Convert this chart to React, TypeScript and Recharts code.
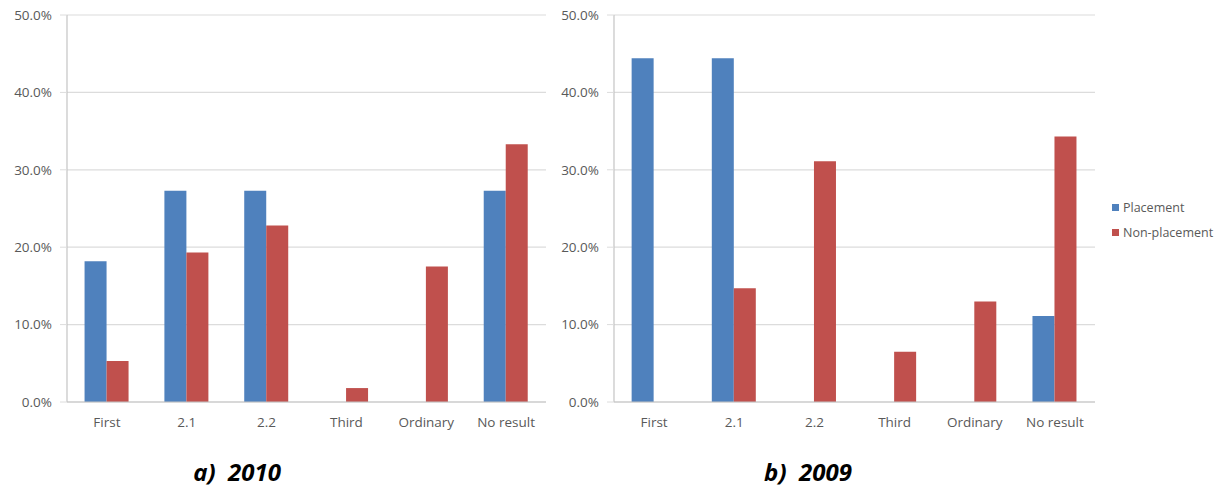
import React from 'react';
import { BarChart, Bar, XAxis, YAxis, CartesianGrid, Legend } from 'recharts';

const categories = ['First', '2.1', '2.2', 'Third', 'Ordinary', 'No result'];
const placement2010 = [18.2, 27.3, 27.3, 0, 0, 27.3];
const nonPlacement2010 = [5.3, 19.3, 22.8, 1.8, 17.5, 33.3];
const placement2009 = [44.4, 44.4, 0, 0, 0, 11.1];
const nonPlacement2009 = [0, 14.7, 31.1, 6.5, 13.0, 34.3];
const yTicks = [0, 10, 20, 30, 40, 50];
const boundaryTicks = [0, 1, 2, 3, 4, 5, 6];
const seriesNames = ['Placement', 'Non-placement'];
const captions = ['a)  2010', 'b)  2009'];

const BLUE = '#4F81BD';
const RED = '#C0504D';
const GRID = '#dcdcdc';
const AXIS = '#c4c4c4';
const TEXT = '#595959';
const FONT = '"Open Sans", sans-serif';

const data2010 = categories.map((c, i) => ({ cat: c, p: placement2010[i], n: nonPlacement2010[i] }));
const data2009 = categories.map((c, i) => ({ cat: c, p: placement2009[i], n: nonPlacement2009[i] }));

const tickStyle = { fill: TEXT, fontSize: 13.5, fontFamily: FONT };

const LegendContent = (props: any) => {
  const payload = [...(props.payload || [])].sort(
    (a: any, b: any) => seriesNames.indexOf(a.value) - seriesNames.indexOf(b.value)
  );
  return (
    <div style={{ fontFamily: FONT, fontSize: 12.5, color: TEXT }}>
      {payload.map((e: any) => (
        <div key={e.value} style={{ height: 25, display: 'flex', alignItems: 'center' }}>
          <span style={{ display: 'inline-block', width: 7, height: 7, background: e.color, marginRight: 4 }} />
          <span>{e.value}</span>
        </div>
      ))}
    </div>
  );
};

function Panel({ data, width, yWidth, right, withLegend }: any) {
  return (
    <BarChart
      width={width}
      height={440}
      data={data}
      margin={{ top: 15, right, bottom: 7, left: 0 }}
      barCategoryGap="22%"
      barGap={0}
    >
      <CartesianGrid vertical={false} stroke={GRID} strokeWidth={1.2} xAxisId="b" />
      <XAxis
        xAxisId="b"
        dataKey="cat"
        height={30}
        axisLine={false}
        tickLine={false}
        tickSize={0}
        tickMargin={14}
        tick={tickStyle}
        interval={0}
      />
      <XAxis
        xAxisId="a"
        type="number"
        domain={[0, 6]}
        ticks={boundaryTicks}
        tick={false}
        tickSize={5}
        height={1}
        axisLine={{ stroke: AXIS, strokeWidth: 1.2 }}
        tickLine={{ stroke: AXIS }}
        allowDataOverflow
      />
      <YAxis
        width={yWidth}
        domain={[0, 50]}
        ticks={yTicks}
        tickFormatter={(v: number) => v.toFixed(1) + '%'}
        tick={tickStyle}
        tickSize={7}
        tickMargin={8}
        axisLine={{ stroke: AXIS, strokeWidth: 1.2 }}
        tickLine={{ stroke: GRID }}
        interval={0}
      />
      <Bar xAxisId="b" dataKey="p" name={seriesNames[0]} fill={BLUE} isAnimationActive={false} />
      <Bar xAxisId="b" dataKey="n" name={seriesNames[1]} fill={RED} isAnimationActive={false} />
      {withLegend && (
        <Legend
          layout="vertical"
          align="center"
          verticalAlign="middle"
          content={<LegendContent />}
          wrapperStyle={{ position: 'absolute', left: 562, top: 195, width: 120 }}
        />
      )}
    </BarChart>
  );
}

export default function App() {
  const capStyle: React.CSSProperties = {
    position: 'absolute',
    top: 460,
    width: 200,
    textAlign: 'center',
    fontFamily: FONT,
    fontSize: 24,
    lineHeight: '24px',
    fontWeight: 700,
    fontStyle: 'italic',
    color: '#000',
    whiteSpace: 'pre',
  };
  return (
    <div style={{ position: 'absolute', left: 0, top: 0, width: 1222, height: 488, background: '#fff', fontFamily: FONT }}>
      <div style={{ position: 'absolute', left: 0, top: 0 }}>
        <Panel data={data2010} width={560} yWidth={67} right={14} withLegend={false} />
      </div>
      <div style={{ position: 'absolute', left: 550, top: 0 }}>
        <Panel data={data2009} width={672} yWidth={64} right={127} withLegend={true} />
      </div>
      <div style={{ ...capStyle, left: 137 }}>{captions[0]}</div>
      <div style={{ ...capStyle, left: 708 }}>{captions[1]}</div>
    </div>
  );
}
